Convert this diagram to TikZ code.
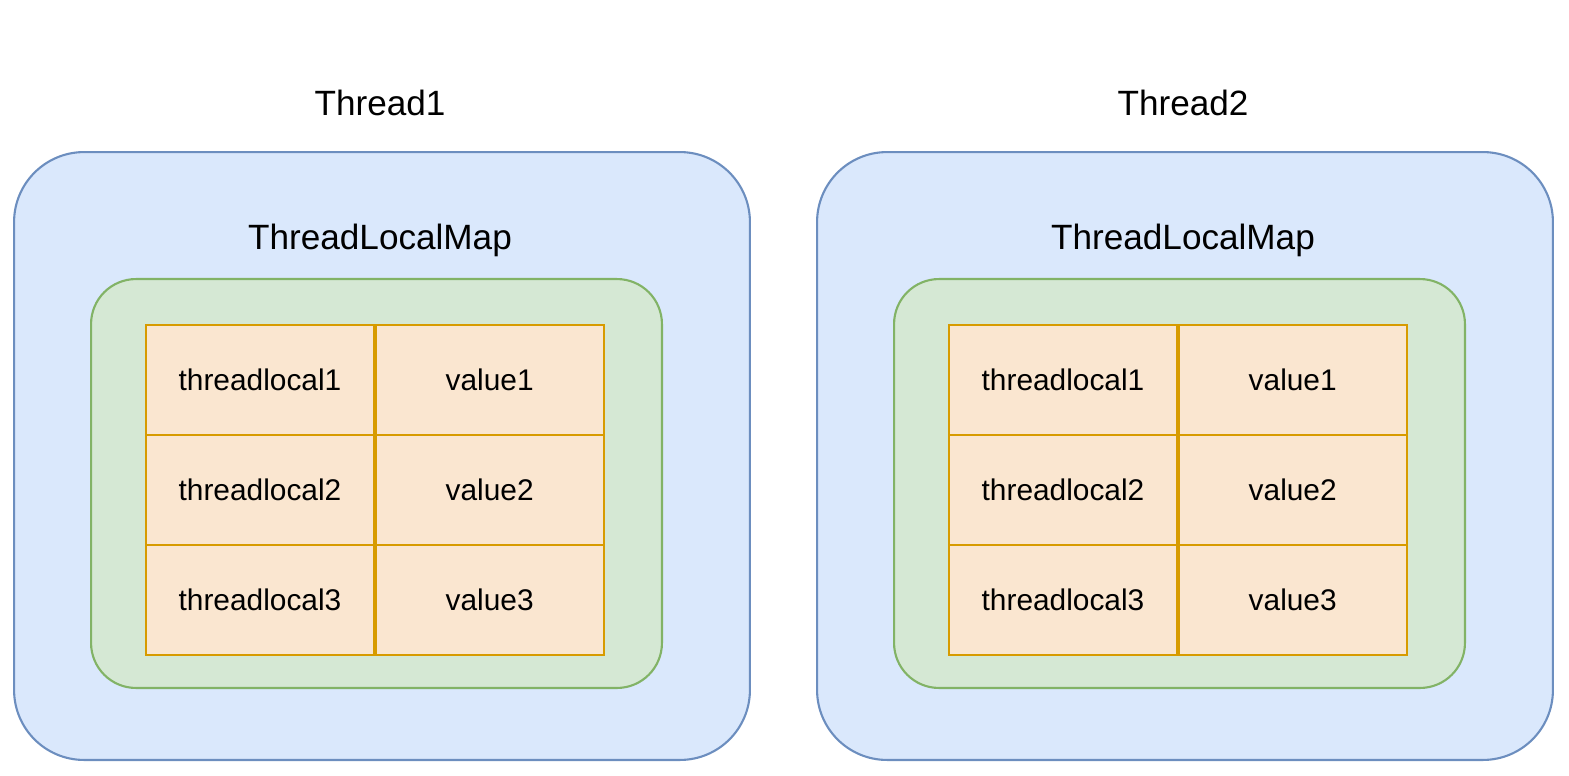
\documentclass[tikz,border=0pt]{standalone}
\usepackage{fontspec}
\setmainfont{Liberation Sans}
\definecolor{threadfill}{HTML}{DAE8FC}
\definecolor{threaddraw}{HTML}{6C8EBF}
\definecolor{mapfill}{HTML}{D5E8D4}
\definecolor{mapdraw}{HTML}{82B366}
\definecolor{cellfill}{HTML}{FAE6D0}
\definecolor{celldraw}{HTML}{D79B00}
\tikzset{
  thread/.style={draw=threaddraw, fill=threadfill, line width=1.2pt, rounded corners=1.4cm},
  map/.style={draw=mapdraw, fill=mapfill, line width=1.2pt, rounded corners=0.9cm},
  cell/.style={draw=celldraw, fill=cellfill, line width=1pt, minimum width=4.56cm, minimum height=2.2cm, font=\fontsize{17}{20}\selectfont, inner sep=0pt},
  title/.style={font=\fontsize{20}{24}\selectfont}
}
\begin{document}
\begin{tikzpicture}[x=0.02cm, y=-0.02cm]
\useasboundingbox (0,0) rectangle (1569,775);
\foreach \t/\dx in {1/0, 2/803} {
  % Thread box
  \node[thread, minimum width=14.72cm, minimum height=12.16cm] (thread\t) at (382+\dx,456) {};
  \node[title] (name\t) at (380+\dx,103) {Thread\t};
  % ThreadLocalMap
  \node[map, minimum width=11.42cm, minimum height=8.18cm] (map\t) at (376.5+\dx,483.5) {};
  \node[title] (mapname\t) at (380+\dx,240) {ThreadLocalMap};
  % Entries
  \foreach \r/\y in {1/380, 2/490, 3/600} {
    \node[cell] (key\t\r) at (260+\dx,\y) {threadlocal\r};
    \node[cell, anchor=west] (val\t\r) at (key\t\r.east) {value\r};
  }
}
\end{tikzpicture}
\end{document}
